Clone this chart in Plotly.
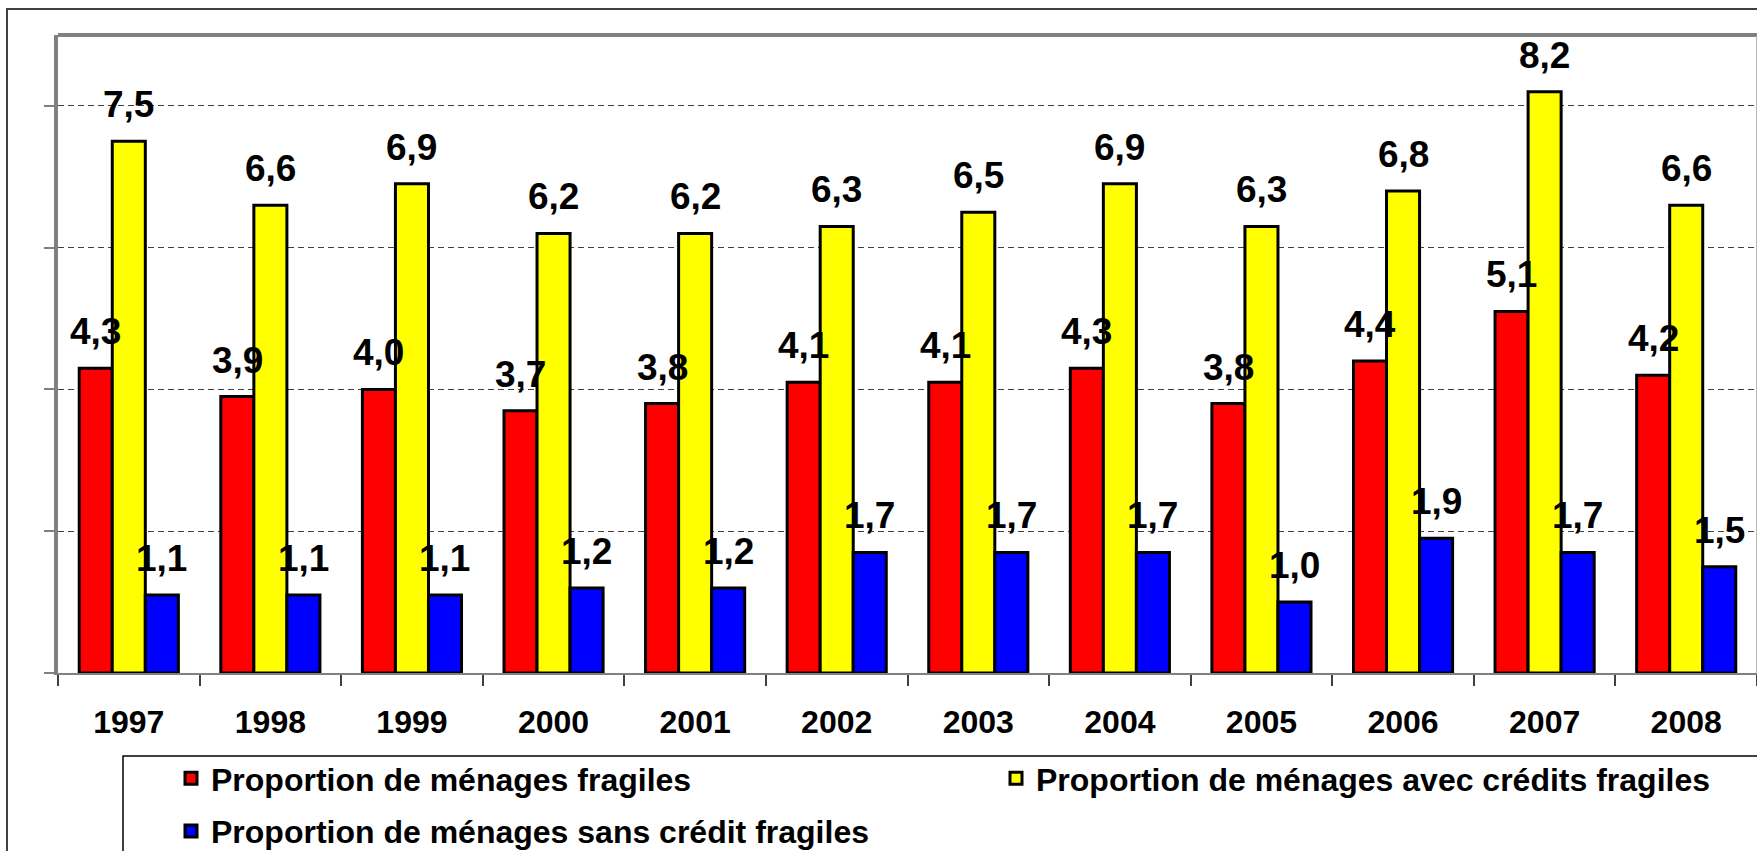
import plotly.graph_objects as go

years = ["1997", "1998", "1999", "2000", "2001", "2002", "2003", "2004", "2005", "2006", "2007", "2008"]
fragiles = [4.3, 3.9, 4.0, 3.7, 3.8, 4.1, 4.1, 4.3, 3.8, 4.4, 5.1, 4.2]
avec_credits = [7.5, 6.6, 6.9, 6.2, 6.2, 6.3, 6.5, 6.9, 6.3, 6.8, 8.2, 6.6]
sans_credit = [1.1, 1.1, 1.1, 1.2, 1.2, 1.7, 1.7, 1.7, 1.0, 1.9, 1.7, 1.5]

names = ["Proportion de ménages fragiles",
         "Proportion de ménages avec crédits fragiles",
         "Proportion de ménages sans crédit fragiles"]
colors = ["#FF0000", "#FFFF00", "#0000FF"]
series = [fragiles, avec_credits, sans_credit]
legends = ["legend", "legend2", "legend"]
groups = ["g1", "g2", "g3"]

W, H = 1757, 851
ML, MR, MT, MB = 58, 0, 35, 178
BARGAP = 0.3
FONT = "Arial, Liberation Sans, sans-serif"

fig = go.Figure()
for name, vals, col, lg, grp in zip(names, series, colors, legends, groups):
    fig.add_trace(go.Bar(
        x=years, y=vals, name=name, legend=lg, legendgroup=grp,
        marker=dict(color=col, line=dict(color="#000000", width=3)),
    ))

# value labels (drawn on top of all bars), comma as decimal separator
pw = W - ML - MR
cw = pw / len(years)
bw = cw * (1 - BARGAP) / 3
annotations = []
for k, vals in enumerate(series):
    for i, v in enumerate(vals):
        annotations.append(dict(
            x=i, y=v, xref="x", yref="y",
            text=f"{v:.1f}".replace(".", ","),
            showarrow=False, yanchor="bottom", xanchor="center",
            xshift=(k - 1) * bw, yshift=14,
            font=dict(family=FONT, size=37, color="#000000", weight="bold"),
        ))

def px_x(p):
    return (p - ML) / pw

ph = H - MT - MB
def px_y(p):
    return (H - MB - p) / ph

shapes = [
    dict(type="rect", xref="paper", yref="paper",
         x0=px_x(7), y0=px_y(9), x1=px_x(1800), y1=px_y(1000),
         line=dict(color="#404040", width=2), fillcolor="rgba(0,0,0,0)"),
    dict(type="line", xref="paper", yref="paper", x0=0, x1=1, y0=1, y1=1,
         line=dict(color="#808080", width=4)),
    dict(type="line", xref="paper", yref="paper", x0=1, x1=1, y0=0, y1=1,
         line=dict(color="#A0A0A0", width=1.5)),
    dict(type="rect", xref="paper", yref="paper",
         x0=px_x(123), y0=px_y(756), x1=px_x(1800), y1=px_y(1000),
         line=dict(color="#000000", width=1.5), fillcolor="rgba(0,0,0,0)"),
]

legend_font = dict(family=FONT, size=32, color="#000000", weight="bold")
fig.update_layout(
    width=W, height=H,
    margin=dict(l=ML, r=MR, t=MT, b=MB, pad=0, autoexpand=False),
    paper_bgcolor="#FFFFFF", plot_bgcolor="#FFFFFF",
    barmode="group", bargap=BARGAP, bargroupgap=0,
    showlegend=True,
    legend=dict(orientation="v", x=px_x(171), y=px_y(751), xanchor="left", yanchor="top",
                font=legend_font, bgcolor="rgba(0,0,0,0)", borderwidth=0, tracegroupgap=8),
    legend2=dict(orientation="v", x=px_x(996), y=px_y(751), xanchor="left", yanchor="top",
                 font=legend_font, bgcolor="rgba(0,0,0,0)", borderwidth=0),
    xaxis=dict(type="category", range=[-0.5, len(years) - 0.5], showline=True,
               linecolor="#808080", linewidth=2,
               ticks="outside", tickson="boundaries", ticklen=11, tickcolor="#404040", tickwidth=1.5,
               tickfont=dict(family=FONT, size=32, color="#000000", weight="bold"),
               tickangle=0, ticklabelstandoff=20, showgrid=False),
    yaxis=dict(range=[0, 9], dtick=2, tick0=0, showgrid=True, gridcolor="#404040", gridwidth=1,
               griddash="6px,4px", ticks="outside", ticklen=10, tickcolor="#808080", tickwidth=1.5,
               showticklabels=False, showline=True, linecolor="#808080", linewidth=4, zeroline=False),
    annotations=annotations,
    shapes=shapes,
)

fig.write_html("out.html", config={"displayModeBar": False},
               post_script="document.body.style.margin='0';document.body.style.overflow='hidden';")
